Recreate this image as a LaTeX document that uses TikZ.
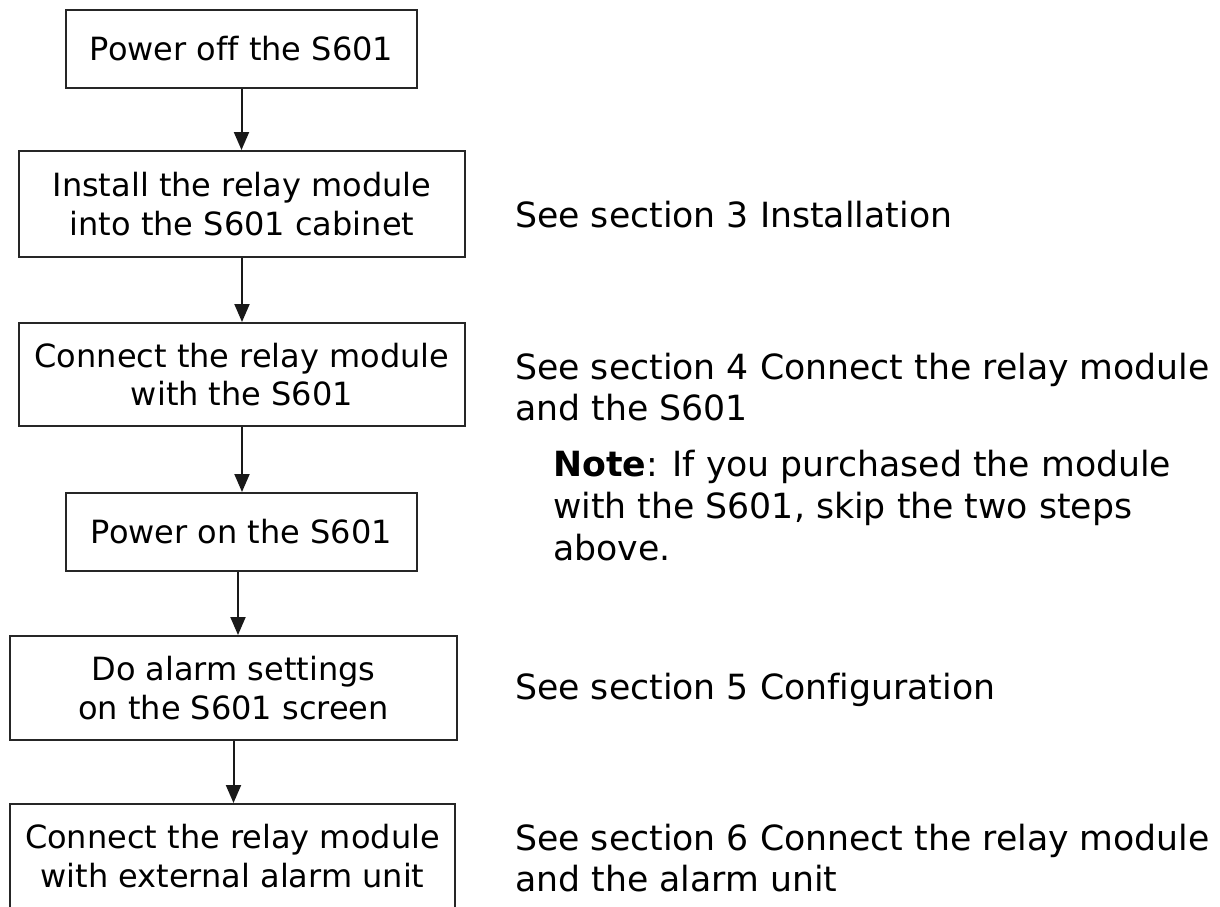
\documentclass[tikz,border=0pt]{standalone}
\usepackage{fontspec}
\setmainfont{DejaVu Sans}[Ligatures=NoCommon]
\usetikzlibrary{arrows.meta}
\begin{document}
\begin{tikzpicture}[x=1pt,y=-1pt,
  box/.style={draw=black!85, line width=2pt, align=center, inner sep=0pt,
              font=\fontsize{32}{38.5}\selectfont},
  link/.style={draw=black!90, line width=2pt, -{Triangle[length=18pt,width=15pt]}},
  side/.style={anchor=base west, inner sep=0pt, font=\fontsize{34.7}{41}\selectfont}]
\useasboundingbox (0,0) rectangle (1220,906);
\clip (0,0) rectangle (1220,906);
% flow boxes
\node[box, minimum width=351pt, minimum height=78pt]  (b1) at (241.5,49)  {Power off the S601};
\node[box, minimum width=446pt, minimum height=106pt] (b2) at (242,204)   {Install the relay module\\into the S601 cabinet};
\node[box, minimum width=446pt, minimum height=103pt] (b3) at (242,374.5) {Connect the relay module\\with the S601};
\node[box, minimum width=351pt, minimum height=78pt]  (b4) at (241.5,532) {Power on the S601};
\node[box, minimum width=447pt, minimum height=104pt] (b5) at (233.5,688) {Do alarm settings\\on the S601 screen};
\node[box, minimum width=445pt, minimum height=104pt] (b6) at (232.5,856) {Connect the relay module\\with external alarm unit};
% connectors
\draw[link] (b1.south) -- (b1.south |- b2.north);
\draw[link] (b2.south) -- (b2.south |- b3.north);
\draw[link] (b3.south) -- (b3.south |- b4.north);
\draw[link] ([xshift=-3.5pt]b4.south) -- ([xshift=-3.5pt]b4.south |- b5.north);
\draw[link] (b5.south) -- (b5.south |- b6.north);
% side notes
\node[side] (t2) at (515,227) {See section 3 Installation};
\node[side] (t3) at (515,379) {\vtop{\hbox{See section 4 Connect the relay module}\hbox{and the S601}}};
\node[side] (tn) at (553,476) {\vtop{\baselineskip=42pt\hbox{\textbf{Note}: If you purchased the module}\hbox{with the S601, skip the two steps}\hbox{above.}}};
\node[side] (t5) at (515,699) {See section 5 Configuration};
\node[side] (t6) at (515,850) {\vtop{\hbox{See section 6 Connect the relay module}\hbox{and the alarm unit}}};
\end{tikzpicture}
\end{document}
